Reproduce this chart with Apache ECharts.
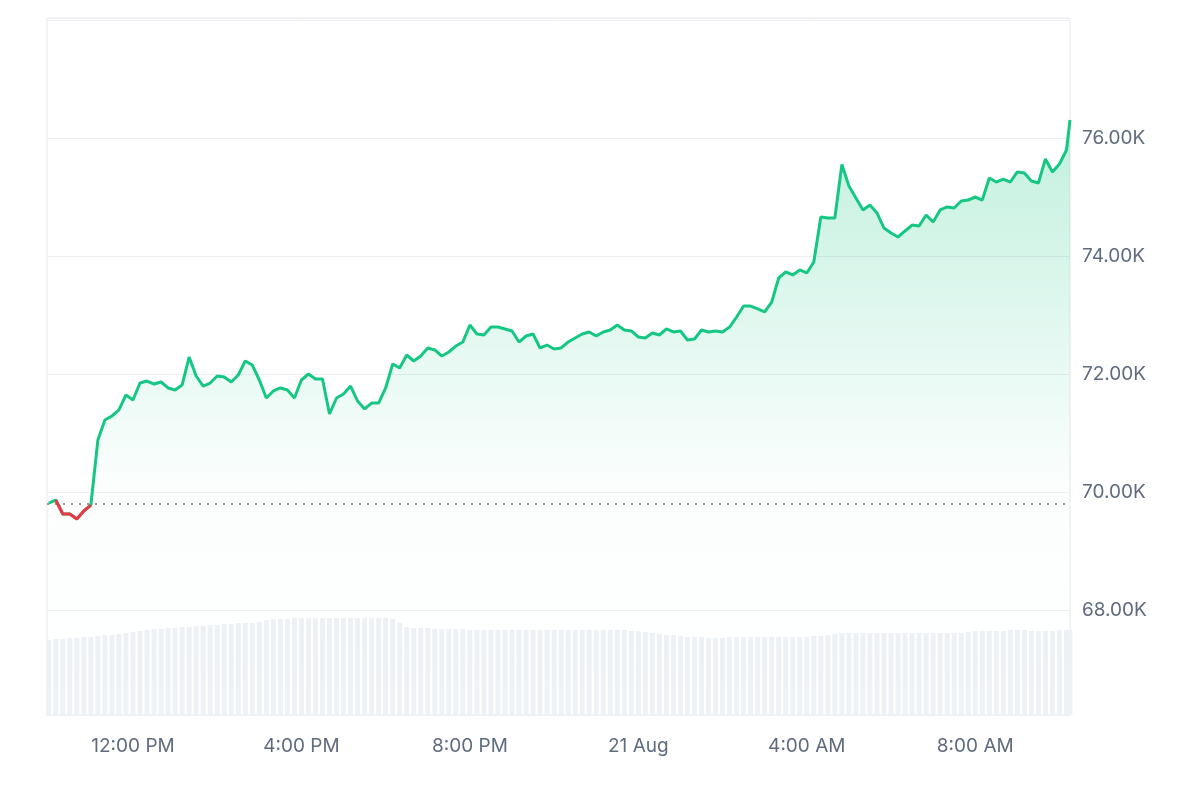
<!DOCTYPE html>
<html><head><meta charset="utf-8">
<script src="https://cdn.jsdelivr.net/npm/echarts@6/dist/echarts.min.js"></script>
<style>html,body{margin:0;padding:0;background:#fff}#c{width:1200px;height:800px}</style>
</head><body><div id="c"></div>
<script>
// price every 10 minutes starting 20 Aug 10:00 AM
const prices = [69813,69864,69627,69627,69542,69678,69779,70881,71220,71288,
71390,71644,71559,71847,71881,71830,71864,71763,71729,71813,
72288,71966,71796,71847,71966,71949,71864,71983,72220,72152,
71898,71593,71712,71763,71729,71593,71898,72000,71915,71915,
71322,71593,71661,71796,71542,71407,71508,71508,71763,72169,
72101,72322,72220,72305,72441,72407,72305,72373,72474,72542,
72830,72678,72661,72796,72796,72763,72729,72542,72644,72678,
72441,72491,72424,72441,72542,72610,72678,72712,72644,72712,
72746,72830,72746,72729,72627,72610,72695,72661,72763,72712,
72729,72576,72593,72746,72712,72729,72712,72796,72966,73152,
73152,73102,73051,73220,73627,73729,73678,73763,73712,73898,
74661,74644,74644,75550,75186,74983,74780,74864,74729,74474,
74390,74322,74424,74525,74508,74695,74576,74780,74831,74813,
74932,74949,75000,74949,75322,75254,75305,75254,75424,75407,
75271,75237,75644,75424,75559,75796,76305];
const volumes = [75,76,76,77,77,78,78,79,80,80,
81,82,83,84,85,86,86,87,87,88,
88,89,89,90,90,91,91,92,92,92,
93,95,96,96,96,97,97,97,97,97,
97,97,97,97,97,97,97,97,97,96,
92,88,87,87,87,86,86,86,86,86,
85,85,85,85,85,85,85,85,85,85,
85,85,85,85,85,85,85,85,85,85,
85,85,85,84,84,83,82,81,80,80,
79,78,78,78,77,77,77,78,78,78,
78,78,78,78,78,78,78,78,78,79,
79,80,81,82,82,82,82,82,82,82,
82,82,82,82,82,82,82,82,82,82,
82,83,84,84,84,84,84,85,85,85,
84,84,84,84,85,85,85];
const baseline = 69800;
const tickLabels = ['12:00 PM','4:00 PM','8:00 PM','21 Aug','4:00 AM','8:00 AM'];
const tickMinutes = [120,360,600,840,1080,1320]; // minutes after 10:00 AM

const times = prices.map((_, i) => Math.min(i*10, 1455));
const priceData = prices.map((p,i)=>[times[i],p]);
const volData = volumes.map((v,i)=>[times[i],v]);
const dipData = priceData.slice(1,7);
const xMin = -2.5, xMax = 1455;
const fmtX = v => { const i = tickMinutes.indexOf(v); return i>=0 ? tickLabels[i] : ''; };

const chart = echarts.init(document.getElementById('c'));
chart.setOption({
  animation:false,
  grid:[
    {left:47,right:130,top:18,bottom:85,show:true,borderColor:'#e6e8eb',borderWidth:1},
    {left:47,right:130,top:600,bottom:85}
  ],
  xAxis:[
    {type:'value',gridIndex:0,min:xMin,max:xMax,
     axisLine:{show:false},axisTick:{show:false,customValues:tickMinutes},splitLine:{show:false},
     axisLabel:{customValues:tickMinutes,formatter:fmtX,color:'#5f6b7e',fontSize:19,margin:22,fontFamily:'Inter, sans-serif'}},
    {type:'value',gridIndex:1,min:xMin,max:xMax,show:false}
  ],
  yAxis:[
    {type:'value',gridIndex:0,position:'right',min:66220,max:78034,splitNumber:6,
     axisLine:{show:false},axisTick:{show:false},
     splitLine:{lineStyle:{color:'#eceef1'}},
     axisLabel:{color:'#5f6b7e',fontSize:19,margin:12,fontFamily:'Inter, sans-serif',
       formatter:v=> (v%2000===0 && v<77000 && v>67000) ? (v/1000).toFixed(2)+'K' : ''}},
    {type:'value',gridIndex:1,min:0,max:115,show:false}
  ],
  series:[
    {type:'line',data:priceData,xAxisIndex:0,yAxisIndex:0,showSymbol:false,z:5,
     lineStyle:{width:3,color:'#16c784'},itemStyle:{color:'#16c784'},
     areaStyle:{color:new echarts.graphic.LinearGradient(0,0,0,1,[
       {offset:0,color:'rgba(22,199,132,0.38)'},{offset:0.62,color:'rgba(22,199,132,0.02)'},{offset:1,color:'rgba(22,199,132,0)'}])},
     markLine:{silent:true,symbol:'none',label:{show:false},
       lineStyle:{color:'#777',type:[2,6],width:1.5},data:[{yAxis:baseline}]}},
    {type:'line',data:dipData,xAxisIndex:0,yAxisIndex:0,showSymbol:false,z:6,
     lineStyle:{width:3,color:'#ea3943'},itemStyle:{color:'#ea3943'}},
    {type:'bar',data:volData,xAxisIndex:1,yAxisIndex:1,barWidth:5,z:1,
     itemStyle:{color:'#eef1f5'}}
  ]
});
</script></body></html>
